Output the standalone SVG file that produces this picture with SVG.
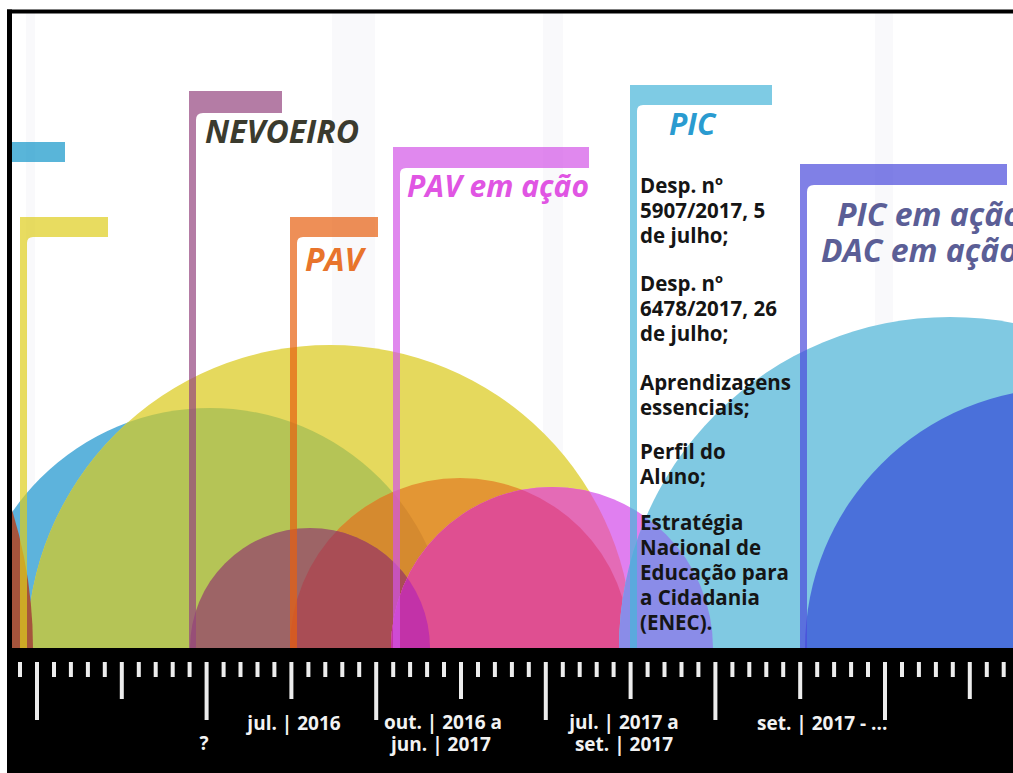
<svg xmlns="http://www.w3.org/2000/svg" width="1013" height="773" viewBox="0 0 1013 773">
  <style>
    .title { font-family: "Open Sans", "Liberation Sans", sans-serif; font-weight: 700; font-style: italic; font-size: 32px; }
    .list { font-family: "Open Sans", "Liberation Sans", sans-serif; font-weight: 700; font-size: 20.5px; fill: #151515; }
    .date { font-family: "Open Sans", "Liberation Sans", sans-serif; font-weight: 700; font-size: 19px; fill: #f2f2f2; }
    .flag { opacity: 0.7; }
    .tick { stroke: #ededed; stroke-width: 4; fill: none; }
    .stripe { fill: #f9f9fb; }
  </style>
  <defs>
    <clipPath id="frame"><rect x="12" y="13" width="1001" height="635"/></clipPath>
    <clipPath id="cB"><circle cx="210" cy="648" r="240"/></clipPath>
    <clipPath id="cY"><circle cx="330" cy="648" r="303"/></clipPath>
    <clipPath id="cO"><circle cx="460" cy="648" r="170"/></clipPath>
    <clipPath id="cM"><circle cx="310" cy="648" r="120"/></clipPath>
    <clipPath id="cL"><circle cx="950" cy="648" r="331"/></clipPath>
  </defs>

  <!-- paper -->
  <rect x="0" y="0" width="1013" height="773" fill="#ffffff"/>

  <g clip-path="url(#frame)">
    <g id="stripes">
      <rect class="stripe" x="26" y="13" width="9" height="635"/>
      <rect class="stripe" x="332" y="13" width="43" height="635"/>
      <rect class="stripe" x="543" y="13" width="20" height="635"/>
      <rect class="stripe" x="875" y="13" width="18" height="635"/>
    </g>

    <!-- overlapping half-discs standing on the time axis -->
    <g id="arcs">
      <circle cx="210" cy="648" r="240" fill="#5db3dc"/>
      <circle cx="330" cy="648" r="303" fill="#e5d95d"/>
      <circle cx="210" cy="648" r="240" fill="#b5c456" clip-path="url(#cY)"/>
      <circle cx="-431" cy="648" r="464" fill="#a5543c"/>
      <circle cx="460" cy="648" r="170" fill="#e39634"/>
      <circle cx="460" cy="648" r="170" fill="#d58a2f" clip-path="url(#cB)"/>
      <circle cx="310" cy="648" r="120" fill="#9d6466"/>
      <circle cx="310" cy="648" r="120" fill="#a94d55" clip-path="url(#cO)"/>
      <circle cx="552" cy="648" r="161" fill="#e07ff0"/>
      <circle cx="552" cy="648" r="161" fill="#e46bb6" clip-path="url(#cY)"/>
      <circle cx="552" cy="648" r="161" fill="#df4f91" clip-path="url(#cO)"/>
      <circle cx="552" cy="648" r="161" fill="#c232a8" clip-path="url(#cM)"/>
      <circle cx="950" cy="648" r="331" fill="#80c9e2"/>
      <circle cx="552" cy="648" r="161" fill="#8a8ce8" clip-path="url(#cL)"/>
      <circle cx="1065" cy="648" r="260" fill="#4a70da"/>
    </g>

    <!-- flag posts -->
    <g id="flag-blue">
      <path class="flag" d="M0 142H65V162H12V648H0Z" fill="#1395c9"/>
    </g>
    <g id="flag-yellow">
      <path class="flag" d="M20 217H108V237H33Q27 237 27 243V648H20Z" fill="#decd1c"/>
    </g>
    <g id="flag-nevoeiro">
      <path class="flag" d="M189 91H282V113H203Q196 113 196 120V648H189Z" fill="#94447f"/>
      <text class="title" x="205" y="143" fill="#3b3b2e">NEVOEIRO</text>
    </g>
    <g id="flag-pav">
      <path class="flag" d="M290 217H378V237H303Q297 237 297 243V648H290Z" fill="#e75f10"/>
      <text class="title" x="305" y="271" fill="#e8742c">PAV</text>
    </g>
    <g id="flag-pav-acao">
      <path class="flag" d="M393 147H589V168H406Q400 168 400 174V648H393Z" fill="#d355e7"/>
      <text class="title" style="font-size:30px" x="407" y="197" fill="#e055e3">PAV em ação</text>
    </g>
    <g id="flag-pic">
      <path class="flag" d="M630 85H772V105H643Q637 105 637 111V648H630Z" fill="#47b5d8"/>
      <text class="title" style="font-size:30px" x="669" y="135" fill="#2a9bd0">PIC</text>
      <text class="list">
        <tspan x="640" y="193">Desp. nº</tspan>
        <tspan x="640" y="218">5907/2017, 5</tspan>
        <tspan x="640" y="243">de julho;</tspan>
        <tspan x="640" y="291">Desp. nº</tspan>
        <tspan x="640" y="316">6478/2017, 26</tspan>
        <tspan x="640" y="341">de julho;</tspan>
        <tspan x="640" y="390">Aprendizagens</tspan>
        <tspan x="640" y="415">essenciais;</tspan>
        <tspan x="640" y="459">Perfil do</tspan>
        <tspan x="640" y="484">Aluno;</tspan>
        <tspan x="640" y="530">Estratégia</tspan>
        <tspan x="640" y="555">Nacional de</tspan>
        <tspan x="640" y="580">Educação para</tspan>
        <tspan x="640" y="605">a Cidadania</tspan>
        <tspan x="640" y="630">(ENEC).</tspan>
      </text>
    </g>
    <g id="flag-pic-acao">
      <path class="flag" d="M800 164H1007V185H814Q807 185 807 192V648H800Z" fill="#4a4adb"/>
      <text class="title" x="837" y="226" fill="#5b5e96">PIC em ação</text>
      <text class="title" x="821" y="262" fill="#5b5e96">DAC em ação</text>
    </g>
  </g>

  <!-- frame and time axis -->
  <g id="axis">
    <rect x="7" y="9.5" width="1006" height="4" fill="#000"/>
    <rect x="7" y="9.5" width="5" height="640" fill="#000"/>
    <rect x="7" y="648" width="1006" height="125" fill="#000"/>
    <path class="tick" d="M20 662V677M54 662V677M70.9 662V677M87.9 662V677M104.8 662V677M138.8 662V677M155.7 662V677M172.7 662V677M189.6 662V677M223.6 662V677M240.5 662V677M257.5 662V677M274.4 662V677M308.4 662V677M325.3 662V677M342.3 662V677M359.2 662V677M393.2 662V677M410.1 662V677M427.1 662V677M444 662V677M478 662V677M494.9 662V677M511.9 662V677M528.8 662V677M562.8 662V677M579.7 662V677M596.7 662V677M613.6 662V677M647.6 662V677M664.5 662V677M681.5 662V677M698.4 662V677M732.4 662V677M749.3 662V677M766.3 662V677M783.2 662V677M817.2 662V677M834.1 662V677M851.1 662V677M868 662V677M902 662V677M918.9 662V677M935.9 662V677M952.8 662V677M986.8 662V677M1003.7 662V677"/>
    <path class="tick" d="M121.8 662V699M291.4 662V699M461 662V699M630.6 662V699M800.2 662V699M969.8 662V699"/>
    <path class="tick" d="M37 662V720M206.6 662V720M376.2 662V720M545.8 662V720M715.4 662V720M885 662V720"/>
    <text class="date" x="204" y="750" text-anchor="middle">?</text>
    <text class="date" x="294" y="730" text-anchor="middle">jul. | 2016</text>
    <text class="date" x="443" y="729" text-anchor="middle">out. | 2016 a</text>
    <text class="date" x="441" y="751" text-anchor="middle">jun. | 2017</text>
    <text class="date" x="624" y="729" text-anchor="middle">jul. | 2017 a</text>
    <text class="date" x="624" y="751" text-anchor="middle">set. | 2017</text>
    <text class="date" x="757" y="730">set. | 2017 - ...</text>
  </g>
</svg>
